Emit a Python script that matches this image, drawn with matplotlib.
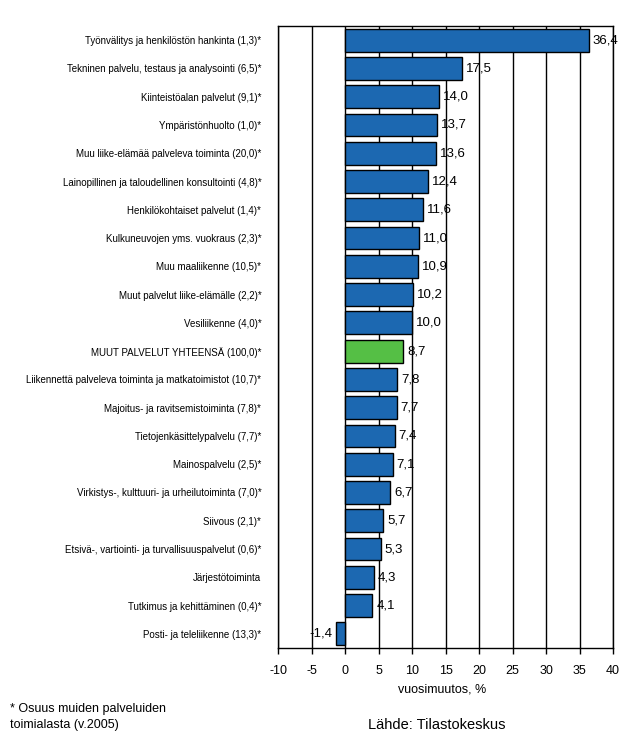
import matplotlib
matplotlib.use("Agg")
import matplotlib.pyplot as plt

categories = [
    "Työnvälitys ja henkilöstön hankinta (1,3)*",
    "Tekninen palvelu, testaus ja analysointi (6,5)*",
    "Kiinteistöalan palvelut (9,1)*",
    "Ympäristönhuolto (1,0)*",
    "Muu liike-elämää palveleva toiminta (20,0)*",
    "Lainopillinen ja taloudellinen konsultointi (4,8)*",
    "Henkilökohtaiset palvelut (1,4)*",
    "Kulkuneuvojen yms. vuokraus (2,3)*",
    "Muu maaliikenne (10,5)*",
    "Muut palvelut liike-elämälle (2,2)*",
    "Vesiliikenne (4,0)*",
    "MUUT PALVELUT YHTEENSÄ (100,0)*",
    "Liikennettä palveleva toiminta ja matkatoimistot (10,7)*",
    "Majoitus- ja ravitsemistoiminta (7,8)*",
    "Tietojenkäsittelypalvelu (7,7)*",
    "Mainospalvelu (2,5)*",
    "Virkistys-, kulttuuri- ja urheilutoiminta (7,0)*",
    "Siivous (2,1)*",
    "Etsivä-, vartiointi- ja turvallisuuspalvelut (0,6)*",
    "Järjestötoiminta",
    "Tutkimus ja kehittäminen (0,4)*",
    "Posti- ja teleliikenne (13,3)*",
]
values = [36.4, 17.5, 14.0, 13.7, 13.6, 12.4, 11.6, 11.0, 10.9, 10.2, 10.0,
          8.7, 7.8, 7.7, 7.4, 7.1, 6.7, 5.7, 5.3, 4.3, 4.1, -1.4]
highlight = "MUUT PALVELUT YHTEENSÄ (100,0)*"
xticks = [-10, -5, 0, 5, 10, 15, 20, 25, 30, 35, 40]

FONT = ["Liberation Sans Narrow", "Liberation Sans", "DejaVu Sans"]
plt.rcParams["font.family"] = FONT

BLUE = "#1C68B1"
GREEN = "#55BF45"

fig = plt.figure(figsize=(6.36, 7.45), dpi=100)
ax = fig.add_axes([278 / 636, 1 - 648 / 745, (613 - 278) / 636, (648 - 26) / 745])

n = len(categories)
ypos = list(range(n))
colors = [GREEN if c == highlight else BLUE for c in categories]
ax.barh(ypos, values, height=0.81, color=colors, edgecolor="black",
        linewidth=1, zorder=3)

for x in xticks:
    ax.axvline(x, color="black", linewidth=1, zorder=2)

for y, v in zip(ypos, values):
    lab = f"{v:.1f}".replace(".", ",")
    if v >= 0:
        ax.text(v + 0.6, y, lab, ha="left", va="center", fontsize=9.5, zorder=1)
    else:
        ax.text(v - 0.5, y, lab, ha="right", va="center", fontsize=9.5, zorder=1)

ax.set_xlim(-10, 40)
ax.set_ylim(n - 0.5, -0.5)
ax.set_xticks(xticks)
ax.set_xticklabels([str(t) for t in xticks], fontsize=9)
ax.set_yticks(ypos)
ax.set_yticklabels(categories, fontsize=7)
ax.tick_params(axis="y", length=0, pad=12)
ax.tick_params(axis="x", direction="out", length=4, width=1, pad=8)
for s in ax.spines.values():
    s.set_color("black")
    s.set_linewidth(1)

fig.text(442 / 636, 1 - 689 / 745, "vuosimuutos, %", ha="center", va="center", fontsize=9)
fig.text(10 / 636, 1 - 709 / 745, "* Osuus muiden palveluiden", ha="left", va="center", fontsize=9)
fig.text(10 / 636, 1 - 725 / 745, "toimialasta (v.2005)", ha="left", va="center", fontsize=9)
fig.text(368 / 636, 1 - 725 / 745, "Lähde: Tilastokeskus", ha="left", va="center", fontsize=10.5)

fig.savefig("out.png", dpi=100)
